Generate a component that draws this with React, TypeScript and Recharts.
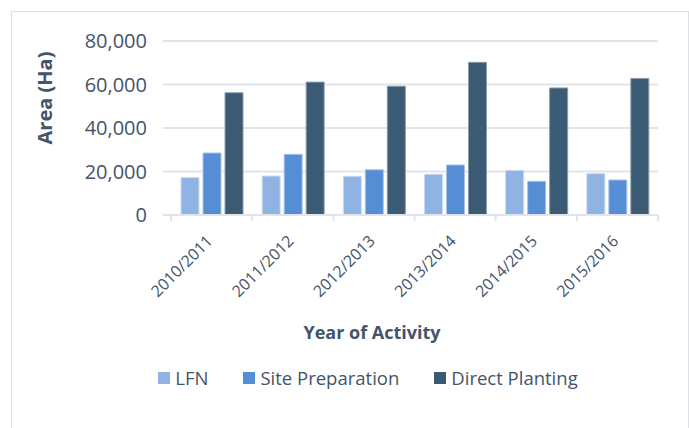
import React from 'react';
import { BarChart, Bar, XAxis, YAxis, CartesianGrid, Legend } from 'recharts';

const years = ['2010/2011', '2011/2012', '2012/2013', '2013/2014', '2014/2015', '2015/2016'];
const lfn = [17200, 17900, 17800, 18700, 20500, 19000];
const sitePrep = [28500, 27900, 20800, 23000, 15500, 16100];
const directPlanting = [56200, 61100, 59200, 70200, 58400, 62800];
const yTicks = [0, 20000, 40000, 60000, 80000];

const data = years.map((year, i) => ({
  year,
  lfn: lfn[i],
  site: sitePrep[i],
  direct: directPlanting[i],
}));

const TEXT = '#44546a';
const GRID = '#e1e5eb';
const FONT = '"Open Sans", sans-serif';

const W = 689;
const H = 428;
const LEFT = 171;
const RIGHT = 31;
const BAND = (W - LEFT - RIGHT) / years.length;

const XTick = (props: any) => {
  const { x, y, payload, index } = props;
  const ax = x + 2;
  const ay = y + 27;
  return (
    <g>
      <line x1={x - BAND / 2} y1={y} x2={x - BAND / 2} y2={y + 6} stroke={GRID} strokeWidth={2} />
      {index === years.length - 1 && (
        <line x1={x + BAND / 2} y1={y} x2={x + BAND / 2} y2={y + 6} stroke={GRID} strokeWidth={2} />
      )}
      <text
        x={ax}
        y={ay}
        textAnchor="end"
        fill={TEXT}
        fontSize={16}
        fontFamily={FONT}
        transform={`rotate(-45, ${ax}, ${ay})`}
      >
        {payload.value}
      </text>
    </g>
  );
};

const legendItems = [
  { label: 'LFN', color: '#8fb4e3' },
  { label: 'Site Preparation', color: '#558ed5' },
  { label: 'Direct Planting', color: '#3b5a74' },
];

const LegendContent = () => (
  <div style={{ display: 'flex', justifyContent: 'center', gap: 35, fontFamily: FONT, fontSize: 18.5, color: TEXT }}>
    {legendItems.map((it) => (
      <div key={it.label} style={{ display: 'flex', alignItems: 'center' }}>
        <span style={{ width: 12, height: 12, background: it.color, marginRight: 5, display: 'inline-block' }} />
        <span>{it.label}</span>
      </div>
    ))}
  </div>
);

export default function App() {
  return (
    <div style={{ position: 'absolute', left: 0, top: 0, width: W, height: H, overflow: 'hidden', background: '#fff' }}>
      <div
        style={{
          position: 'absolute',
          left: 11,
          top: 11,
          width: 676,
          height: 440,
          border: '1.5px solid #dcdfe4',
        }}
      />
      <div style={{ position: 'absolute', left: 0, top: 0 }}>
        <BarChart
          width={W}
          height={H}
          data={data}
          margin={{ top: 41, right: RIGHT, left: 0, bottom: 33 }}
          barSize={18}
          barGap={4}
        >
          <CartesianGrid vertical={false} stroke={GRID} strokeWidth={2} />
          <XAxis
            dataKey="year"
            height={150}
            axisLine={{ stroke: GRID, strokeWidth: 2 }}
            tickLine={false}
            tickSize={0}
            tickMargin={0}
            tick={<XTick />}
            interval={0}
            label={{
              content: (p: any) => (
                <text
                  x={372}
                  y={p.viewBox.y + 124}
                  textAnchor="middle"
                  fill={TEXT}
                  fontSize={18}
                  fontWeight="bold"
                  fontFamily={FONT}
                >
                  Year of Activity
                </text>
              ),
            }}
          />
          <YAxis
            width={LEFT}
            domain={[0, 80000]}
            ticks={yTicks}
            axisLine={false}
            tickLine={{ stroke: GRID, strokeWidth: 2 }}
            tickSize={8}
            tickMargin={16}
            tickFormatter={(v: number) => v.toLocaleString('en-US')}
            tick={{ fill: TEXT, fontSize: 20, fontFamily: FONT }}
            label={{
              content: () => (
                <text
                  x={52}
                  y={98}
                  textAnchor="middle"
                  fill={TEXT}
                  fontSize={20}
                  fontWeight="bold"
                  fontFamily={FONT}
                  transform="rotate(-90, 52, 98)"
                >
                  Area (Ha)
                </text>
              ),
            }}
          />
          <Legend verticalAlign="bottom" height={30} content={<LegendContent />} wrapperStyle={{ left: 0, width: 736 }} />
          <Bar dataKey="lfn" name="LFN" fill="#8fb4e3" stroke="#c9daf0" strokeWidth={1} isAnimationActive={false} />
          <Bar dataKey="site" name="Site Preparation" fill="#558ed5" stroke="#a7c3e8" strokeWidth={1} isAnimationActive={false} />
          <Bar dataKey="direct" name="Direct Planting" fill="#3b5a74" stroke="#8a9cad" strokeWidth={1} isAnimationActive={false} />
        </BarChart>
      </div>
    </div>
  );
}
